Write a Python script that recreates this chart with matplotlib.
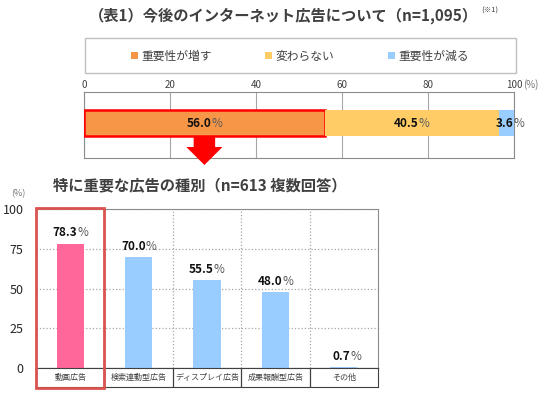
import matplotlib
matplotlib.use('Agg')
import matplotlib.pyplot as plt
from matplotlib import transforms
from matplotlib.patches import Polygon, Rectangle

plt.rcParams['font.family'] = ['Noto Sans CJK JP', 'DejaVu Sans']

W, H = 552, 396

TITLE = '（表1）今後のインターネット広告について（n=1,095）'
SUBTITLE = '特に重要な広告の種別（n=613 複数回答）'

trend_labels = ['重要性が増す', '変わらない', '重要性が減る']
trend_values = [56.0, 40.5, 3.6]
trend_colors = ['#F79646', '#FFCC66', '#99CCFF']

ad_types = ['動画広告', '検索連動型広告', 'ディスプレイ広告', '成果報酬型広告', 'その他']
ad_values = [78.3, 70.0, 55.5, 48.0, 0.7]
ad_colors = ['#FF6699', '#99CCFF', '#99CCFF', '#99CCFF', '#99CCFF']

TEXT = '#404040'
FRAME = '#8C8C8C'
GRID = '#A6A6A6'
RED = '#FF0000'


def _box(x0, y0, x1, y1):
    # pixel box (top-left origin) -> figure fraction [l, b, w, h]
    return [x0 / W, 1 - y1 / H, (x1 - x0) / W, (y1 - y0) / H]


def _fy(y):
    return 1 - y / H


def _pct_label(ax, x, y, value, dy=0, va='center'):
    ax.annotate(f'{value:.1f}', xy=(x, y), xytext=(5, dy),
                textcoords='offset points', ha='right', va=va,
                fontsize=8.5, fontweight='bold', color='#111111', zorder=6)
    ax.annotate('%', xy=(x, y), xytext=(5, dy),
                textcoords='offset points', ha='left', va=va,
                fontsize=8.5, color='#595959', zorder=6)


fig = plt.figure(figsize=(W / 100, H / 100), dpi=100)

# titles
fig.text(283 / W, _fy(16), TITLE, ha='center', va='center', fontsize=11,
         fontweight='bold', color=TEXT)
fig.text(490 / W, _fy(11), '(※1)', ha='center', va='center', fontsize=5.5,
         color=TEXT)

# legend frame + legend
fig.add_artist(Rectangle((85 / W, _fy(73)), 431 / W, 35 / H,
                         transform=fig.transFigure, fill=False,
                         edgecolor='#BFBFBF', linewidth=1))
handles = [Rectangle((0, 0), 1, 1, facecolor=c, edgecolor='none')
           for c in trend_colors]
leg = fig.legend(handles, trend_labels, loc='center',
                 bbox_to_anchor=(300 / W, _fy(56)), ncol=3, frameon=False,
                 fontsize=8.5, handlelength=0.6, handleheight=0.6,
                 handletextpad=0.3, columnspacing=4.5)
for txt in leg.get_texts():
    txt.set_color(TEXT)

# top stacked bar
ax_top = fig.add_axes(_box(84, 92, 514, 158))
left = 0
for i, (val, col) in enumerate(zip(trend_values, trend_colors)):
    edge = RED if i == 0 else col
    ax_top.barh(0.03, val, left=left, height=0.4, color=col,
                edgecolor=edge, linewidth=1.8 if i == 0 else 0, zorder=3)
    _pct_label(ax_top, left + val / 2, 0.03, val)
    left += val
ax_top.set_xlim(0, 100)
ax_top.set_ylim(-0.5, 0.5)
ax_top.set_yticks([])
ax_top.set_xticks(range(0, 101, 20))
ax_top.xaxis.tick_top()
ax_top.tick_params(axis='x', length=0, pad=1.5, labelsize=7, labelcolor=TEXT)
ax_top.grid(axis='x', color=GRID, linewidth=0.8, zorder=0)
for sp in ax_top.spines.values():
    sp.set_color(FRAME)
ax_top.annotate('(%)', xy=(100, 1), xycoords=('data', 'axes fraction'),
                xytext=(6.5, 1.5), textcoords='offset points', ha='left',
                va='bottom', fontsize=7, color='#737373')

# red arrow below the first segment
arrow_tf = transforms.blended_transform_factory(ax_top.transData,
                                                fig.transFigure)
cx = trend_values[0] / 2
arrow = Polygon([(cx - 2.5, _fy(136)), (cx + 2.5, _fy(136)),
                 (cx + 2.5, _fy(147)), (cx + 4.2, _fy(147)),
                 (cx, _fy(165)), (cx - 4.2, _fy(147)),
                 (cx - 2.5, _fy(147))],
                closed=True, transform=arrow_tf, facecolor=RED,
                edgecolor='none', zorder=10)
fig.add_artist(arrow)

# subtitle
fig.text(200 / W, _fy(185), SUBTITLE, ha='center', va='center', fontsize=11,
         fontweight='bold', color=TEXT)
fig.text(18 / W, _fy(194), '(%)', ha='center', va='center', fontsize=6.5,
         color='#737373')

# bottom bar chart
ax = fig.add_axes(_box(36, 209, 378, 368))
xs = list(range(len(ad_types)))
ax.bar(xs, ad_values, width=0.4, color=ad_colors, zorder=3)
for x, val in zip(xs, ad_values):
    _pct_label(ax, x, val, val, dy=3, va='bottom')
bounds = [x + 0.5 for x in xs[:-1]]
ax.set_xlim(-0.5, len(ad_types) - 0.5)
ax.set_ylim(0, 100)
ax.set_xticks([])
ax.set_xticks(bounds, minor=True)
ax.set_yticks([0, 25, 50, 75, 100])
ax.tick_params(axis='y', length=0, pad=9, labelsize=9, labelcolor='#262626')
ax.tick_params(axis='x', which='minor', length=0)
ax.grid(axis='y', linestyle=':', color=GRID, linewidth=0.9, zorder=0)
ax.grid(axis='x', which='minor', linestyle=':', color=GRID, linewidth=0.9,
        zorder=0)
for sp in ax.spines.values():
    sp.set_color(FRAME)
ax.spines['bottom'].set_color(TEXT)

# category label row
ax_cat = fig.add_axes(_box(36, 368, 378, 387))
ax_cat.set_xlim(-0.5, len(ad_types) - 0.5)
ax_cat.set_ylim(0, 1)
ax_cat.set_xticks([])
ax_cat.set_yticks([])
for b in bounds:
    ax_cat.axvline(b, color=TEXT, linewidth=0.9)
for sp in ax_cat.spines.values():
    sp.set_color(TEXT)
for x, name in zip(xs, ad_types):
    ax_cat.text(x, 0.5, name, ha='center', va='center', fontsize=5.8,
                color=TEXT)

# highlight box around the first category
hl_tf = transforms.blended_transform_factory(ax.transData, fig.transFigure)
fig.add_artist(Rectangle((-0.5, _fy(388)), 1.0, 180 / H, transform=hl_tf,
                         fill=False, edgecolor='#D9534F', linewidth=2,
                         zorder=10))

fig.savefig('out.png', dpi=100)
